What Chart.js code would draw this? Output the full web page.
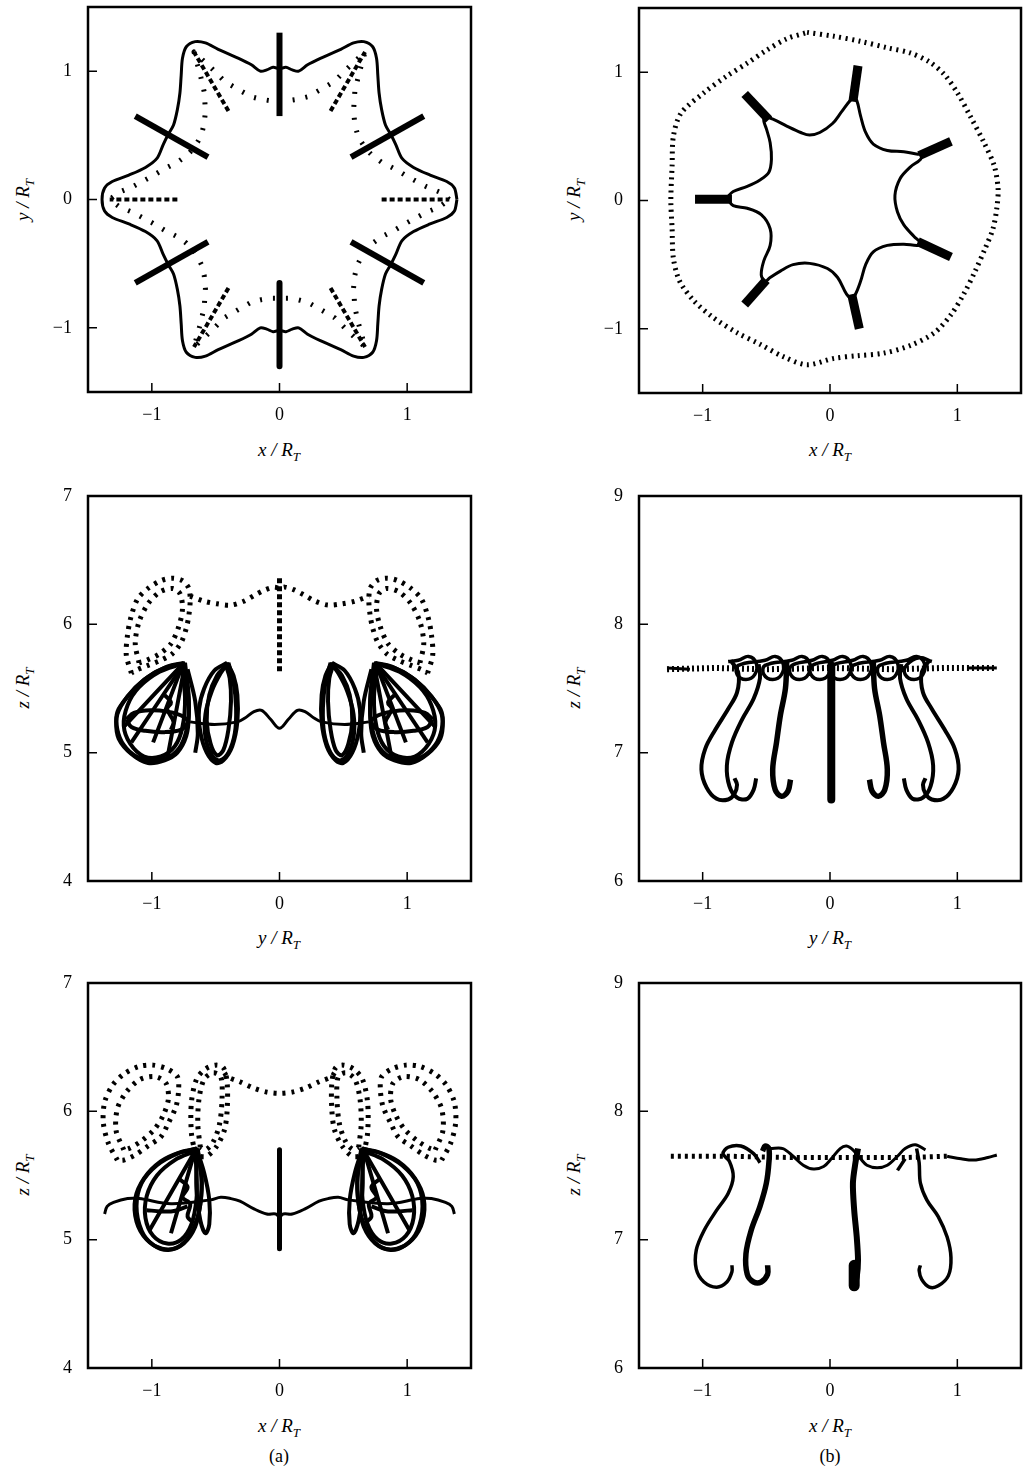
<!DOCTYPE html>
<html>
<head>
<meta charset="utf-8">
<title>Vortex filament positions</title>
<script src="https://cdn.jsdelivr.net/npm/chart.js"></script>
<style>
  body { margin: 0; background: #fff; font-family: "Liberation Serif", "DejaVu Serif", serif; color: #000; }
  #page { position: relative; width: 1027px; height: 1475px; overflow: hidden; }
  canvas { position: absolute; }
  .xlab, .ylab, .tag { position: absolute; font-size: 19px; white-space: nowrap; line-height: 1; }
  .xlab, .ylab { font-style: italic; }
  .xlab, .tag { transform: translate(-50%, -50%); }
  .ylab { transform: translate(-50%, -50%) rotate(-90deg); }
  .tag { font-size: 18px; }
  sub { font-size: 13px; vertical-align: -5px; line-height: 0; }
</style>
</head>
<body>
<div id="page">
  <div class="ylab" style="left:22px; top:200px">y / R<sub>T</sub></div>
  <div class="ylab" style="left:573px; top:200px">y / R<sub>T</sub></div>
  <div class="xlab" style="left:279px; top:449px">x / R<sub>T</sub></div>
  <div class="xlab" style="left:830px; top:449px">x / R<sub>T</sub></div>

  <div class="ylab" style="left:22px; top:688px">z / R<sub>T</sub></div>
  <div class="ylab" style="left:573px; top:688px">z / R<sub>T</sub></div>
  <div class="xlab" style="left:279px; top:937px">y / R<sub>T</sub></div>
  <div class="xlab" style="left:830px; top:937px">y / R<sub>T</sub></div>

  <div class="ylab" style="left:22px; top:1175px">z / R<sub>T</sub></div>
  <div class="ylab" style="left:573px; top:1175px">z / R<sub>T</sub></div>
  <div class="xlab" style="left:279px; top:1425px">x / R<sub>T</sub></div>
  <div class="xlab" style="left:830px; top:1425px">x / R<sub>T</sub></div>

  <div class="tag" style="left:279px; top:1456px">(a)</div>
  <div class="tag" style="left:830px; top:1456px">(b)</div>
</div>

<script>
// tick values
const xyTicks = [-1, 0, 1];
const zTicksA = [4, 5, 6, 7];
const zTicksB = [6, 7, 8, 9];

// ---------- (a) top: x-y plane ----------
const a1Solid = [
  [1.39,0.00],[1.37,0.09],[1.31,0.14],[1.18,0.19],[1.05,0.25],[0.96,0.32],[0.91,0.43],[0.87,0.51],[0.83,0.58],[0.80,0.70],[0.78,0.83],[0.77,0.97],[0.76,1.10],[0.73,1.19],[0.66,1.23],[0.58,1.22],[0.48,1.17],[0.32,1.10],[0.22,1.05],[0.15,1.00],[0.10,1.01],[0.05,1.03],[0.00,1.02],
  [-0.05,1.03],[-0.10,1.01],[-0.15,1.00],[-0.22,1.05],[-0.32,1.10],[-0.48,1.17],[-0.58,1.22],[-0.66,1.23],[-0.73,1.19],[-0.76,1.10],[-0.77,0.97],[-0.78,0.83],[-0.80,0.70],[-0.83,0.58],[-0.87,0.51],[-0.91,0.43],[-0.96,0.32],[-1.05,0.25],[-1.18,0.19],[-1.31,0.14],[-1.37,0.09],[-1.39,0.00],
  [-1.37,-0.09],[-1.31,-0.14],[-1.18,-0.19],[-1.05,-0.25],[-0.96,-0.32],[-0.91,-0.43],[-0.87,-0.51],[-0.83,-0.58],[-0.80,-0.70],[-0.78,-0.83],[-0.77,-0.97],[-0.76,-1.10],[-0.73,-1.19],[-0.66,-1.23],[-0.58,-1.22],[-0.48,-1.17],[-0.32,-1.10],[-0.22,-1.05],[-0.15,-1.00],[-0.10,-1.01],[-0.05,-1.03],[0.00,-1.02],
  [0.05,-1.03],[0.10,-1.01],[0.15,-1.00],[0.22,-1.05],[0.32,-1.10],[0.48,-1.17],[0.58,-1.22],[0.66,-1.23],[0.73,-1.19],[0.76,-1.10],[0.77,-0.97],[0.78,-0.83],[0.80,-0.70],[0.83,-0.58],[0.87,-0.51],[0.91,-0.43],[0.96,-0.32],[1.05,-0.25],[1.18,-0.19],[1.31,-0.14],[1.37,-0.09],[1.39,0.00]
];
const a1Dotted = [
  [1.33,0.00],[1.25,0.06],[1.15,0.10],[1.00,0.18],[0.90,0.24],[0.80,0.29],[0.73,0.34],[0.68,0.39],[0.64,0.45],[0.61,0.51],[0.59,0.59],[0.58,0.69],[0.59,0.84],[0.62,0.97],[0.67,1.15],[0.53,1.02],[0.43,0.92],[0.31,0.85],[0.22,0.80],[0.14,0.78],[0.07,0.77],[0.00,0.77],
  [-0.07,0.77],[-0.14,0.78],[-0.22,0.80],[-0.31,0.85],[-0.43,0.92],[-0.53,1.02],[-0.67,1.15],[-0.62,0.97],[-0.59,0.84],[-0.58,0.69],[-0.59,0.59],[-0.61,0.51],[-0.64,0.45],[-0.68,0.39],[-0.73,0.34],[-0.80,0.29],[-0.90,0.24],[-1.00,0.18],[-1.15,0.10],[-1.25,0.06],[-1.33,0.00],
  [-1.25,-0.06],[-1.15,-0.10],[-1.00,-0.18],[-0.90,-0.24],[-0.80,-0.29],[-0.73,-0.34],[-0.68,-0.39],[-0.64,-0.45],[-0.61,-0.51],[-0.59,-0.59],[-0.58,-0.69],[-0.59,-0.84],[-0.62,-0.97],[-0.67,-1.15],[-0.53,-1.02],[-0.43,-0.92],[-0.31,-0.85],[-0.22,-0.80],[-0.14,-0.78],[-0.07,-0.77],[0.00,-0.77],
  [0.07,-0.77],[0.14,-0.78],[0.22,-0.80],[0.31,-0.85],[0.43,-0.92],[0.53,-1.02],[0.67,-1.15],[0.62,-0.97],[0.59,-0.84],[0.58,-0.69],[0.59,-0.59],[0.61,-0.51],[0.64,-0.45],[0.68,-0.39],[0.73,-0.34],[0.80,-0.29],[0.90,-0.24],[1.00,-0.18],[1.15,-0.10],[1.25,-0.06],[1.33,0.00]
];
const a1LobeDashes = [
  [[0.80,0.00],[1.33,0.00]], [[0.40,0.69],[0.67,1.15]], [[-0.40,0.69],[-0.67,1.15]],
  [[-0.80,0.00],[-1.33,0.00]], [[-0.40,-0.69],[-0.67,-1.15]], [[0.40,-0.69],[0.67,-1.15]]
];
const a1Bars = [
  [[0.56,0.33],[1.13,0.65]], [[0.00,0.65],[0.00,1.30]], [[-0.56,0.33],[-1.13,0.65]],
  [[-0.56,-0.33],[-1.13,-0.65]], [[0.00,-0.65],[0.00,-1.30]], [[0.56,-0.33],[1.13,-0.65]]
];

// ---------- (b) top: x-y plane ----------
const b1Dotted = [
  [-0.18,1.31],[0.03,1.28],[0.24,1.24],[0.45,1.19],[0.63,1.15],[0.78,1.08],[0.90,0.98],[1.00,0.84],[1.10,0.66],[1.21,0.45],[1.29,0.27],[1.32,0.09],[1.31,-0.06],[1.28,-0.22],[1.22,-0.37],[1.14,-0.55],[1.05,-0.73],[0.95,-0.89],[0.82,-1.03],[0.63,-1.13],[0.42,-1.19],[0.21,-1.21],[0.03,-1.23],[-0.18,-1.28],[-0.36,-1.22],[-0.55,-1.12],[-0.73,-1.03],[-0.92,-0.91],[-1.07,-0.78],[-1.18,-0.63],[-1.23,-0.45],[-1.24,-0.22],[-1.25,0.00],[-1.24,0.27],[-1.23,0.50],[-1.17,0.68],[-0.99,0.84],[-0.81,0.97],[-0.65,1.07],[-0.50,1.17],[-0.34,1.26],[-0.18,1.31]
];
const b1Solid = [
  [-0.81,0.02],[-0.76,0.07],[-0.65,0.11],[-0.55,0.16],[-0.48,0.22],[-0.46,0.32],[-0.47,0.45],[-0.50,0.56],[-0.52,0.62],[-0.51,0.65],[-0.44,0.63],[-0.34,0.58],[-0.23,0.53],[-0.16,0.51],[-0.08,0.53],[0.02,0.60],[0.09,0.69],[0.16,0.78],[0.19,0.79],[0.21,0.78],[0.24,0.66],[0.28,0.53],[0.34,0.44],[0.45,0.39],[0.58,0.38],[0.69,0.36],[0.72,0.36],[0.71,0.32],[0.63,0.26],[0.55,0.17],[0.51,0.04],[0.53,-0.09],[0.58,-0.19],[0.66,-0.28],[0.71,-0.33],[0.69,-0.35],[0.58,-0.34],[0.45,-0.35],[0.34,-0.40],[0.28,-0.50],[0.24,-0.63],[0.20,-0.73],[0.17,-0.76],[0.13,-0.73],[0.06,-0.60],[-0.02,-0.53],[-0.16,-0.49],[-0.29,-0.50],[-0.39,-0.55],[-0.47,-0.60],[-0.51,-0.63],[-0.54,-0.58],[-0.52,-0.47],[-0.47,-0.35],[-0.47,-0.22],[-0.54,-0.11],[-0.65,-0.06],[-0.76,-0.04],[-0.81,0.02]
];
const b1Bars = [
  [[-1.06,0.01],[-0.77,0.01]], [[-0.67,0.83],[-0.48,0.63]], [[0.22,1.05],[0.18,0.77]], [[0.95,0.46],[0.70,0.35]],
  [[0.95,-0.44],[0.69,-0.32]], [[0.23,-1.00],[0.17,-0.73]], [[-0.67,-0.81],[-0.50,-0.62]]
];

// ---------- (a) middle: y-z plane ----------
const a2DotLoops = [
  [[-1.16,5.62],[-1.20,5.76],[-1.19,5.92],[-1.16,6.07],[-1.11,6.20],[-1.03,6.28],[-0.93,6.34],[-0.84,6.36],[-0.76,6.34],[-0.71,6.28],[-0.70,6.18],[-0.71,6.07],[-0.73,5.97],[-0.77,5.86],[-0.84,5.77],[-0.93,5.72],[-1.03,5.68],[-1.13,5.64],[-1.16,5.62]],
  [[-1.10,5.70],[-1.13,5.85],[-1.10,6.02],[-1.03,6.16],[-0.94,6.25],[-0.84,6.28],[-0.78,6.24],[-0.76,6.12],[-0.79,5.98],[-0.85,5.85],[-0.94,5.77],[-1.04,5.72],[-1.10,5.70]],
  [[1.16,5.62],[1.20,5.76],[1.19,5.92],[1.16,6.07],[1.11,6.20],[1.03,6.28],[0.93,6.34],[0.84,6.36],[0.76,6.34],[0.71,6.28],[0.70,6.18],[0.71,6.07],[0.73,5.97],[0.77,5.86],[0.84,5.77],[0.93,5.72],[1.03,5.68],[1.13,5.64],[1.16,5.62]],
  [[1.10,5.70],[1.13,5.85],[1.10,6.02],[1.03,6.16],[0.94,6.25],[0.84,6.28],[0.78,6.24],[0.76,6.12],[0.79,5.98],[0.85,5.85],[0.94,5.77],[1.04,5.72],[1.10,5.70]],
  [[-0.70,6.22],[-0.59,6.18],[-0.49,6.16],[-0.38,6.15],[-0.28,6.18],[-0.19,6.23],[-0.11,6.27],[-0.04,6.29],[0.00,6.28],[0.04,6.29],[0.11,6.27],[0.19,6.23],[0.28,6.18],[0.38,6.15],[0.49,6.16],[0.59,6.18],[0.70,6.22]]
];
const a2Stem = [[0.00,6.36],[0.00,5.62]];
const a2Loops = [
  [[-0.75,5.70],[-0.88,5.67],[-1.03,5.59],[-1.16,5.47],[-1.26,5.34],[-1.28,5.24],[-1.26,5.11],[-1.16,4.99],[-1.03,4.92],[-0.90,4.94],[-0.80,5.00],[-0.73,5.13],[-0.71,5.29],[-0.72,5.50],[-0.75,5.70]],
  [[-0.74,5.70],[-0.90,5.66],[-1.06,5.57],[-1.19,5.44],[-1.27,5.30],[-1.27,5.18],[-1.22,5.06],[-1.12,4.97],[-0.99,4.94],[-0.86,4.97],[-0.77,5.06],[-0.72,5.22],[-0.71,5.42],[-0.74,5.70]],
  [[-0.77,5.69],[-0.94,5.63],[-1.10,5.51],[-1.19,5.37],[-1.22,5.21],[-1.17,5.07],[-1.06,4.97],[-0.93,4.97],[-0.82,5.05],[-0.76,5.20],[-0.74,5.43],[-0.77,5.69]],
  [[-1.20,5.26],[-1.14,5.31],[-1.01,5.33],[-0.88,5.32],[-0.77,5.29],[-0.72,5.24],[-0.77,5.18],[-0.90,5.16],[-1.05,5.17],[-1.16,5.20],[-1.20,5.26]],
  [[-0.75,5.69],[-1.16,5.08]], [[-0.76,5.68],[-0.99,5.08]], [[-0.75,5.70],[-1.22,5.20]], [[-0.74,5.69],[-0.88,4.95]],
  [[-0.90,5.45],[-0.85,5.39],[-0.88,5.34],[-0.83,5.24],[-0.85,5.18]],
  [[-0.41,5.70],[-0.51,5.64],[-0.59,5.50],[-0.63,5.34],[-0.62,5.16],[-0.57,5.00],[-0.50,4.92],[-0.44,4.94],[-0.37,5.05],[-0.33,5.24],[-0.33,5.45],[-0.36,5.60],[-0.41,5.70]],
  [[-0.40,5.70],[-0.46,5.62],[-0.53,5.48],[-0.58,5.30],[-0.58,5.12],[-0.53,4.98],[-0.47,4.94],[-0.40,5.00],[-0.35,5.15],[-0.34,5.35],[-0.36,5.55],[-0.40,5.70]],
  [[-0.42,5.68],[-0.49,5.60],[-0.55,5.45],[-0.57,5.25],[-0.54,5.07],[-0.49,4.98],[-0.44,5.02],[-0.40,5.18],[-0.38,5.40],[-0.39,5.58],[-0.42,5.68]],
  [[-0.72,5.65],[-0.66,5.40],[-0.64,5.15],[-0.66,5.00]],
  [[0.75,5.70],[0.88,5.67],[1.03,5.59],[1.16,5.47],[1.26,5.34],[1.28,5.24],[1.26,5.11],[1.16,4.99],[1.03,4.92],[0.90,4.94],[0.80,5.00],[0.73,5.13],[0.71,5.29],[0.72,5.50],[0.75,5.70]],
  [[0.74,5.70],[0.90,5.66],[1.06,5.57],[1.19,5.44],[1.27,5.30],[1.27,5.18],[1.22,5.06],[1.12,4.97],[0.99,4.94],[0.86,4.97],[0.77,5.06],[0.72,5.22],[0.71,5.42],[0.74,5.70]],
  [[0.77,5.69],[0.94,5.63],[1.10,5.51],[1.19,5.37],[1.22,5.21],[1.17,5.07],[1.06,4.97],[0.93,4.97],[0.82,5.05],[0.76,5.20],[0.74,5.43],[0.77,5.69]],
  [[1.20,5.26],[1.14,5.31],[1.01,5.33],[0.88,5.32],[0.77,5.29],[0.72,5.24],[0.77,5.18],[0.90,5.16],[1.05,5.17],[1.16,5.20],[1.20,5.26]],
  [[0.75,5.69],[1.16,5.08]], [[0.76,5.68],[0.99,5.08]], [[0.75,5.70],[1.22,5.20]], [[0.74,5.69],[0.88,4.95]],
  [[0.90,5.45],[0.85,5.39],[0.88,5.34],[0.83,5.24],[0.85,5.18]],
  [[0.41,5.70],[0.51,5.64],[0.59,5.50],[0.63,5.34],[0.62,5.16],[0.57,5.00],[0.50,4.92],[0.44,4.94],[0.37,5.05],[0.33,5.24],[0.33,5.45],[0.36,5.60],[0.41,5.70]],
  [[0.40,5.70],[0.46,5.62],[0.53,5.48],[0.58,5.30],[0.58,5.12],[0.53,4.98],[0.47,4.94],[0.40,5.00],[0.35,5.15],[0.34,5.35],[0.36,5.55],[0.40,5.70]],
  [[0.42,5.68],[0.49,5.60],[0.55,5.45],[0.57,5.25],[0.54,5.07],[0.49,4.98],[0.44,5.02],[0.40,5.18],[0.38,5.40],[0.39,5.58],[0.42,5.68]],
  [[0.72,5.65],[0.66,5.40],[0.64,5.15],[0.66,5.00]]
];
const a2Wave = [
  [-0.70,5.24],[-0.51,5.22],[-0.33,5.24],[-0.27,5.27],[-0.20,5.32],[-0.14,5.33],[-0.07,5.26],[0.00,5.19],
  [0.07,5.26],[0.14,5.33],[0.20,5.32],[0.27,5.27],[0.33,5.24],[0.51,5.22],[0.70,5.24]
];

// ---------- (b) middle: y-z plane ----------
const b2Dotted = [[-1.28,7.65],[-0.90,7.66],[-0.50,7.65],[0.00,7.66],[0.50,7.65],[0.90,7.66],[1.31,7.66]];
const b2Ends = [[[-1.28,7.66],[-1.10,7.65]], [[1.08,7.66],[1.31,7.66]]];
const b2Stem = [[0.01,7.68],[0.01,6.635]];
const b2Hooks = [
  [[-0.78,7.72],[-0.72,7.62],[-0.73,7.47],[-0.80,7.34],[-0.90,7.18],[-0.98,7.03],[-1.01,6.87],[-0.97,6.73],[-0.89,6.64],[-0.80,6.635],[-0.75,6.68],[-0.73,6.75],[-0.75,6.80]],
  [[-0.56,7.69],[-0.55,7.58],[-0.60,7.42],[-0.69,7.26],[-0.77,7.08],[-0.81,6.90],[-0.79,6.74],[-0.73,6.65],[-0.65,6.64],[-0.60,6.71],[-0.58,6.80]],
  [[0.78,7.72],[0.72,7.62],[0.73,7.47],[0.80,7.34],[0.90,7.18],[0.98,7.03],[1.01,6.87],[0.97,6.73],[0.89,6.64],[0.80,6.635],[0.75,6.68],[0.73,6.75],[0.75,6.80]],
  [[0.56,7.69],[0.55,7.58],[0.60,7.42],[0.69,7.26],[0.77,7.08],[0.81,6.90],[0.79,6.74],[0.73,6.65],[0.65,6.64],[0.60,6.71],[0.58,6.80]]
];
const b2ThickHooks = [
  [[-0.34,7.71],[-0.35,7.50],[-0.39,7.29],[-0.42,7.08],[-0.45,6.87],[-0.43,6.71],[-0.38,6.66],[-0.33,6.70],[-0.31,6.79]],
  [[0.34,7.71],[0.35,7.50],[0.39,7.29],[0.42,7.08],[0.45,6.87],[0.43,6.71],[0.38,6.66],[0.33,6.70],[0.31,6.79]]
];
const b2Chain = [
  [-0.80,7.71],
  [-0.72,7.72],[-0.64,7.75],[-0.58,7.70],[-0.59,7.61],[-0.66,7.57],[-0.73,7.61],[-0.72,7.68],
  [-0.51,7.72],[-0.43,7.75],[-0.37,7.70],[-0.38,7.61],[-0.45,7.57],[-0.52,7.61],[-0.51,7.68],
  [-0.30,7.72],[-0.22,7.75],[-0.16,7.70],[-0.17,7.61],[-0.24,7.57],[-0.31,7.61],[-0.30,7.68],
  [-0.14,7.72],[-0.06,7.75],[0.00,7.70],[-0.01,7.61],[-0.08,7.57],[-0.15,7.61],[-0.14,7.68],
  [0.02,7.72],[0.10,7.75],[0.16,7.70],[0.15,7.61],[0.08,7.57],[0.01,7.61],[0.02,7.68],
  [0.18,7.72],[0.26,7.75],[0.32,7.70],[0.31,7.61],[0.24,7.57],[0.17,7.61],[0.18,7.68],
  [0.39,7.72],[0.47,7.75],[0.53,7.70],[0.52,7.61],[0.45,7.57],[0.38,7.61],[0.39,7.68],
  [0.60,7.72],[0.68,7.75],[0.74,7.70],[0.73,7.61],[0.66,7.57],[0.59,7.61],[0.60,7.68],
  [0.70,7.74],[0.80,7.71]
];

// ---------- (a) bottom: x-z plane ----------
const a3DotLoops = [
  [[-1.27,5.62],[-1.34,5.75],[-1.38,5.91],[-1.37,6.07],[-1.31,6.20],[-1.22,6.29],[-1.10,6.35],[-0.99,6.36],[-0.88,6.33],[-0.80,6.27],[-0.79,6.17],[-0.81,6.04],[-0.87,5.91],[-0.93,5.80],[-1.03,5.73],[-1.13,5.66],[-1.22,5.62],[-1.27,5.62]],
  [[-1.22,5.70],[-1.28,5.85],[-1.27,6.02],[-1.20,6.15],[-1.09,6.25],[-0.97,6.27],[-0.89,6.22],[-0.87,6.10],[-0.91,5.97],[-0.98,5.86],[-1.08,5.77],[-1.18,5.71],[-1.22,5.70]],
  [[-0.66,5.67],[-0.69,5.83],[-0.69,6.07],[-0.65,6.25],[-0.58,6.33],[-0.50,6.36],[-0.44,6.34],[-0.41,6.22],[-0.41,6.01],[-0.43,5.86],[-0.49,5.73],[-0.57,5.65],[-0.63,5.65],[-0.66,5.67]],
  [[-0.62,5.72],[-0.64,5.90],[-0.63,6.10],[-0.59,6.25],[-0.52,6.30],[-0.46,6.27],[-0.45,6.10],[-0.47,5.90],[-0.52,5.76],[-0.58,5.70],[-0.62,5.72]],
  [[1.27,5.62],[1.34,5.75],[1.38,5.91],[1.37,6.07],[1.31,6.20],[1.22,6.29],[1.10,6.35],[0.99,6.36],[0.88,6.33],[0.80,6.27],[0.79,6.17],[0.81,6.04],[0.87,5.91],[0.93,5.80],[1.03,5.73],[1.13,5.66],[1.22,5.62],[1.27,5.62]],
  [[1.22,5.70],[1.28,5.85],[1.27,6.02],[1.20,6.15],[1.09,6.25],[0.97,6.27],[0.89,6.22],[0.87,6.10],[0.91,5.97],[0.98,5.86],[1.08,5.77],[1.18,5.71],[1.22,5.70]],
  [[0.66,5.67],[0.69,5.83],[0.69,6.07],[0.65,6.25],[0.58,6.33],[0.50,6.36],[0.44,6.34],[0.41,6.22],[0.41,6.01],[0.43,5.86],[0.49,5.73],[0.57,5.65],[0.63,5.65],[0.66,5.67]],
  [[0.62,5.72],[0.64,5.90],[0.63,6.10],[0.59,6.25],[0.52,6.30],[0.46,6.27],[0.45,6.10],[0.47,5.90],[0.52,5.76],[0.58,5.70],[0.62,5.72]],
  [[-0.43,6.30],[-0.41,6.27],[-0.31,6.23],[-0.20,6.18],[-0.10,6.15],[0.00,6.14],[0.10,6.15],[0.20,6.18],[0.31,6.23],[0.41,6.27],[0.43,6.30]]
];
const a3Stem = [[0.00,5.70],[0.00,4.93]];
const a3Loops = [
  [[-0.65,5.71],[-0.80,5.67],[-0.96,5.58],[-1.08,5.44],[-1.12,5.26],[-1.08,5.07],[-0.99,4.96],[-0.87,4.92],[-0.75,4.97],[-0.66,5.10],[-0.62,5.28],[-0.61,5.49],[-0.65,5.71]],
  [[-0.64,5.71],[-0.78,5.68],[-0.93,5.61],[-1.06,5.48],[-1.13,5.32],[-1.12,5.14],[-1.04,5.00],[-0.92,4.93],[-0.80,4.94],[-0.70,5.04],[-0.63,5.22],[-0.61,5.45],[-0.64,5.71]],
  [[-0.66,5.69],[-0.82,5.62],[-0.96,5.50],[-1.04,5.34],[-1.05,5.17],[-0.99,5.03],[-0.88,4.97],[-0.77,5.00],[-0.69,5.12],[-0.65,5.32],[-0.65,5.52],[-0.66,5.69]],
  [[-0.65,5.71],[-0.59,5.52],[-0.55,5.31],[-0.55,5.12],[-0.58,5.05],[-0.62,5.15],[-0.65,5.39],[-0.65,5.59],[-0.65,5.71]],
  [[-0.65,5.71],[-1.02,5.07]], [[-0.66,5.70],[-0.85,5.05]],
  [[-0.78,5.47],[-0.72,5.41],[-0.76,5.33],[-0.70,5.28],[-0.72,5.18],[-0.67,5.13]],
  [[-1.04,5.23],[-0.93,5.22],[-0.85,5.22],[-0.80,5.23],[-0.72,5.26]],
  [[0.65,5.71],[0.80,5.67],[0.96,5.58],[1.08,5.44],[1.12,5.26],[1.08,5.07],[0.99,4.96],[0.87,4.92],[0.75,4.97],[0.66,5.10],[0.62,5.28],[0.61,5.49],[0.65,5.71]],
  [[0.64,5.71],[0.78,5.68],[0.93,5.61],[1.06,5.48],[1.13,5.32],[1.12,5.14],[1.04,5.00],[0.92,4.93],[0.80,4.94],[0.70,5.04],[0.63,5.22],[0.61,5.45],[0.64,5.71]],
  [[0.66,5.69],[0.82,5.62],[0.96,5.50],[1.04,5.34],[1.05,5.17],[0.99,5.03],[0.88,4.97],[0.77,5.00],[0.69,5.12],[0.65,5.32],[0.65,5.52],[0.66,5.69]],
  [[0.65,5.71],[0.59,5.52],[0.55,5.31],[0.55,5.12],[0.58,5.05],[0.62,5.15],[0.65,5.39],[0.65,5.59],[0.65,5.71]],
  [[0.65,5.71],[1.02,5.07]], [[0.66,5.70],[0.85,5.05]],
  [[0.78,5.47],[0.72,5.41],[0.76,5.33],[0.70,5.28],[0.72,5.18],[0.67,5.13]],
  [[1.04,5.23],[0.93,5.22],[0.85,5.22],[0.80,5.23],[0.72,5.26]]
];
const a3Wave = [
  [-1.37,5.20],[-1.35,5.26],[-1.30,5.29],[-1.19,5.32],[-1.10,5.32],[-0.85,5.28],[-0.54,5.31],[-0.46,5.33],[-0.38,5.32],[-0.31,5.30],[-0.20,5.24],[-0.10,5.20],[-0.03,5.20],[0.00,5.18],
  [0.03,5.20],[0.10,5.20],[0.20,5.24],[0.31,5.30],[0.38,5.32],[0.46,5.33],[0.54,5.31],[0.85,5.28],[1.10,5.32],[1.19,5.32],[1.30,5.29],[1.35,5.26],[1.37,5.20]
];

// ---------- (b) bottom: x-z plane ----------
const b3Dotted = [[-1.25,7.65],[-0.80,7.65],[-0.30,7.64],[0.20,7.64],[0.60,7.64],[0.92,7.65]];
const b3Tail = [[0.92,7.65],[1.03,7.63],[1.13,7.62],[1.24,7.64],[1.31,7.66]];
const b3Hooks = [
  [[-0.55,7.60],[-0.60,7.67],[-0.70,7.73],[-0.80,7.72],[-0.84,7.67],[-0.79,7.61],[-0.76,7.49],[-0.80,7.36],[-0.89,7.23],[-0.99,7.07],[-1.05,6.92],[-1.05,6.77],[-0.99,6.67],[-0.89,6.63],[-0.81,6.67],[-0.77,6.75],[-0.77,6.80]],
  [[0.68,7.71],[0.70,7.60],[0.71,7.44],[0.76,7.31],[0.85,7.18],[0.92,7.02],[0.95,6.86],[0.93,6.72],[0.85,6.64],[0.78,6.63],[0.72,6.69],[0.70,6.76],[0.71,6.80]],
  [[0.53,7.54],[0.59,7.63]]
];
const b3ThickHook = [[-0.53,7.69],[-0.51,7.73],[-0.48,7.71],[-0.48,7.60],[-0.50,7.44],[-0.55,7.26],[-0.62,7.07],[-0.66,6.89],[-0.65,6.73],[-0.60,6.67],[-0.54,6.67],[-0.49,6.73],[-0.49,6.80]];
const b3Bar = [[0.22,7.71],[0.20,7.60],[0.18,7.44],[0.19,7.23],[0.21,7.02],[0.22,6.84],[0.21,6.71],[0.19,6.64]];
const b3BarFoot = [[0.19,6.80],[0.19,6.64]];
const b3Chain = [
  [-0.47,7.71],[-0.37,7.71],[-0.29,7.65],[-0.21,7.58],[-0.13,7.55],[-0.05,7.57],[0.01,7.63],[0.08,7.71],[0.13,7.73],[0.18,7.70],
  [0.24,7.63],[0.29,7.58],[0.37,7.56],[0.45,7.58],[0.53,7.65],[0.59,7.71],[0.67,7.74],[0.75,7.70]
];

// ---------- drawing ----------
const PAD_TOP = 16;   // room above the box for the top tick label

function line(points, style) {
  return Object.assign({
    data: points.map(p => ({ x: p[0], y: p[1] })),
    showLine: true, pointRadius: 0, borderColor: '#000', backgroundColor: '#000', fill: false,
    borderJoinStyle: 'round', tension: 0
  }, style);
}
const solid = (w, t) => ({ borderWidth: w, tension: t });
const dots = (w, on, off, t) => ({ borderWidth: w, borderDash: [on, off], borderCapStyle: 'butt', tension: t || 0 });

function tickText(v) { return v < 0 ? '\u2212' + Math.abs(v) : String(v); }

// box around the plot area with inward ticks on the left and bottom
const framePlugin = {
  id: 'frame',
  afterDatasetsDraw(chart) {
    const { ctx, chartArea: a, scales } = chart;
    ctx.save();
    ctx.strokeStyle = '#000';
    ctx.lineWidth = 1.5;
    ctx.beginPath();
    scales.x.ticks.forEach(t => {
      const p = scales.x.getPixelForValue(t.value);
      ctx.moveTo(p, a.bottom); ctx.lineTo(p, a.bottom - 9);
    });
    scales.y.ticks.forEach(t => {
      const p = scales.y.getPixelForValue(t.value);
      ctx.moveTo(a.left, p); ctx.lineTo(a.left + 9, p);
    });
    ctx.stroke();
    ctx.lineWidth = 2.5;
    ctx.strokeRect(a.left, a.top, a.right - a.left, a.bottom - a.top);
    ctx.restore();
  }
};

function axis(range, ticks, horizontal) {
  return {
    type: 'linear', min: range[0], max: range[1],
    afterBuildTicks: s => { s.ticks = ticks.map(v => ({ value: v })); },
    // fixed axis sizes and no label overhang, so every plot box gets the same area
    afterFit: s => {
      if (horizontal) { s.height = 40; s.paddingLeft = 0; s.paddingRight = 0; }
      else { s.width = 60; s.paddingTop = 0; s.paddingBottom = 0; }
    },
    grid: { display: false, drawTicks: false },
    border: { display: false },
    ticks: {
      color: '#000', padding: horizontal ? 12 : 16, maxRotation: 0, autoSkip: false,
      font: { family: 'Liberation Serif', size: 18 },
      callback: v => tickText(v)
    }
  };
}

function makePanel(p) {
  const cv = document.createElement('canvas');
  cv.width = p.w + 68;
  cv.height = p.h + 40 + PAD_TOP;
  cv.style.left = (p.left - 60) + 'px';
  cv.style.top = (p.top - PAD_TOP) + 'px';
  document.getElementById('page').appendChild(cv);
  new Chart(cv, {
    type: 'scatter',
    data: { datasets: p.sets },
    options: {
      responsive: false, animation: false, devicePixelRatio: 1, events: [],
      layout: { padding: { left: 0, top: PAD_TOP, right: 8, bottom: 0 } },
      plugins: { legend: { display: false }, tooltip: { enabled: false } },
      scales: { x: axis(p.xr, p.xt, true), y: axis(p.yr, p.yt, false) }
    },
    plugins: [framePlugin]
  });
}

const panels = [
  { left: 88, top: 7, w: 383, h: 385, xr: [-1.5, 1.5], yr: [-1.5, 1.5], xt: xyTicks, yt: xyTicks,
    sets: [
      line(a1Dotted, dots(5, 2, 11)),
      ...a1LobeDashes.map(s => line(s, dots(4, 5, 3))),
      line(a1Solid, solid(3, 0.3)),
      ...a1Bars.map(s => line(s, { borderWidth: 6 }))
    ] },
  { left: 639, top: 8, w: 382, h: 385, xr: [-1.5, 1.5], yr: [-1.5, 1.5], xt: xyTicks, yt: xyTicks,
    sets: [
      line(b1Dotted, dots(5, 2, 4.5, 0.3)),
      line(b1Solid, solid(3, 0.35)),
      ...b1Bars.map(s => line(s, { borderWidth: 9 }))
    ] },
  { left: 88, top: 496, w: 383, h: 385, xr: [-1.5, 1.5], yr: [4, 7], xt: xyTicks, yt: zTicksA,
    sets: [
      ...a2DotLoops.map(s => line(s, dots(5, 3, 6, 0.3))),
      line(a2Stem, dots(5, 5, 3)),
      ...a2Loops.map(s => line(s, solid(4, 0.35))),
      line(a2Wave, solid(3, 0.35))
    ] },
  { left: 639, top: 496, w: 382, h: 385, xr: [-1.5, 1.5], yr: [6, 9], xt: xyTicks, yt: zTicksB,
    sets: [
      line(b2Dotted, dots(6, 2, 3)),
      ...b2Ends.map(s => line(s, solid(3, 0))),
      ...b2Hooks.map(s => line(s, solid(4, 0.35))),
      ...b2ThickHooks.map(s => line(s, solid(5.5, 0.35))),
      line(b2Chain, solid(3.5, 0.4)),
      line(b2Stem, { borderWidth: 8 })
    ] },
  { left: 88, top: 983, w: 383, h: 385, xr: [-1.5, 1.5], yr: [4, 7], xt: xyTicks, yt: zTicksA,
    sets: [
      ...a3DotLoops.map(s => line(s, dots(5, 3, 6, 0.3))),
      ...a3Loops.map(s => line(s, solid(4, 0.35))),
      line(a3Wave, solid(3, 0.35)),
      line(a3Stem, { borderWidth: 5 })
    ] },
  { left: 639, top: 983, w: 382, h: 385, xr: [-1.5, 1.5], yr: [6, 9], xt: xyTicks, yt: zTicksB,
    sets: [
      line(b3Dotted, dots(5, 3, 4)),
      line(b3Tail, solid(3, 0.35)),
      ...b3Hooks.map(s => line(s, solid(3.5, 0.35))),
      line(b3ThickHook, solid(5.5, 0.35)),
      line(b3Chain, solid(3, 0.35)),
      line(b3Bar, solid(6, 0.3)),
      line(b3BarFoot, { borderWidth: 11 })
    ] }
];

panels.forEach(makePanel);
</script>
</body>
</html>
